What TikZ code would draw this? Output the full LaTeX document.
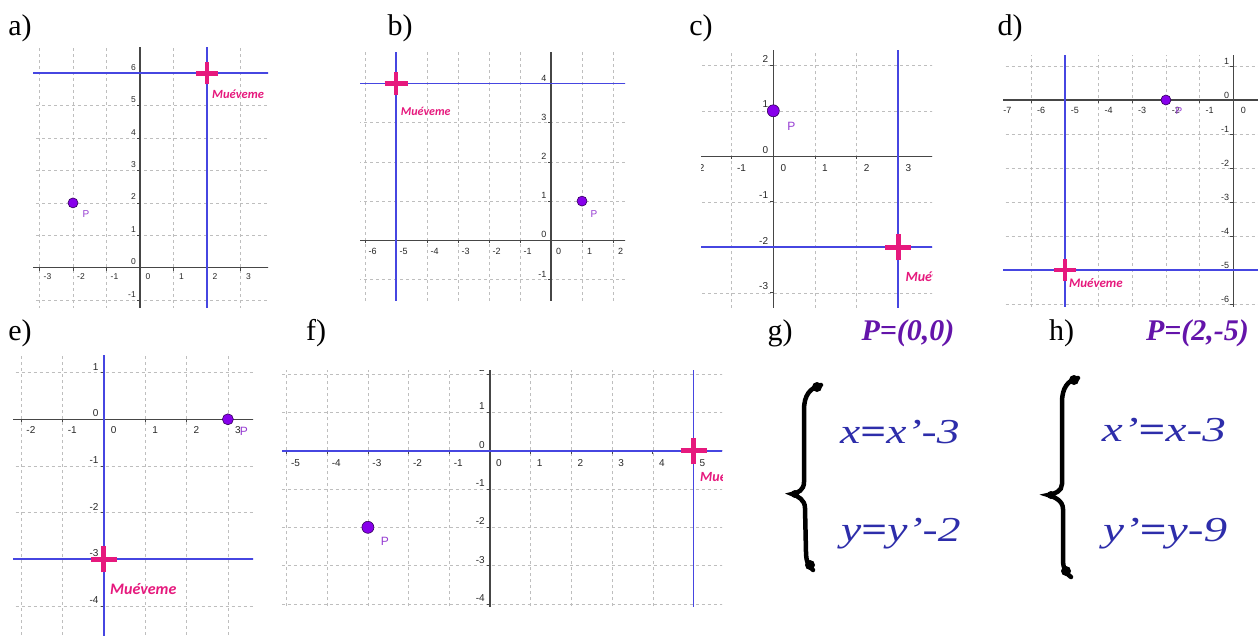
\documentclass[tikz,border=0pt]{standalone}
\usepackage{fontspec}
\usepackage{graphicx}
\setmainfont{Liberation Serif}
\setsansfont{Liberation Sans}
\newfontfamily\calib{Carlito}
\definecolor{gridc}{RGB}{190,190,190}
\definecolor{axisc}{RGB}{70,70,70}
\definecolor{labc}{RGB}{40,40,40}
\definecolor{bluec}{RGB}{70,70,225}
\definecolor{magc}{RGB}{230,25,125}
\definecolor{ptc}{RGB}{135,0,235}
\definecolor{ptd}{RGB}{50,0,90}
\definecolor{plc}{RGB}{150,60,210}
\definecolor{eqc}{RGB}{45,45,170}
\definecolor{pcol}{RGB}{100,20,170}
\def\tfs{8}\def\xlx{8}\def\xly{-9}\def\ylx{-4}\def\yly{6}
\tikzset{
  gridl/.style={draw=gridc, dash pattern=on 3pt off 3pt, line width=0.6pt},
  axisl/.style={draw=axisc, line width=1.2pt},
  tickm/.style={draw=axisc, line width=0.8pt},
  tickl/.style={font=\sffamily\fontsize{\tfs}{\tfs}\selectfont, text=labc, inner sep=0pt},
  xlab/.style={tickl, xshift=\xlx pt, yshift=\xly pt},
  ylab/.style={tickl, anchor=east, xshift=\ylx pt, yshift=\yly pt},
  chair/.style={draw=bluec, line width=1.9pt},
  mover/.style={draw=magc, line width=4.5pt},
  ptdot/.style={circle, fill=ptc, draw=ptd, line width=0.6pt, inner sep=0pt},
  plab/.style={text=plc, inner sep=0pt},
  mlab/.style={text=magc, anchor=west, inner sep=0pt},
  lbl/.style={font=\fontsize{30}{30}\selectfont, inner sep=0pt},
  ptitle/.style={font=\fontsize{30}{30}\selectfont\bfseries\itshape, text=pcol, inner sep=0pt},
  eqn/.style={font=\fontsize{35}{35}\selectfont, text=eqc, inner sep=0pt, anchor=base west},
  bracel/.style={draw=black, line width=4.5pt, line cap=round},
}
\newcommand\gaxes[5]{%
  \foreach \i in {#2,...,#3} \draw[gridl] (\i,#4-1) -- (\i,#5+1);
  \foreach \j in {#4,...,#5} \draw[gridl] (#2-1,\j) -- (#3+1,\j);
  \draw[axisl] (#2-1,0) -- (#3+1,0);
  \draw[axisl] (0,#4-1) -- (0,#5+1);
  \foreach \i in {#2,...,#3} {
    \draw[tickm] (\i,0) -- ++(0,-3pt);
    \node[xlab] (#1x\i) at (\i,0) {\i};
  }
  \foreach \j in {#4,...,#5} {
    \draw[tickm] (0,\j) -- ++(-3pt,0);
    \node[ylab] (#1y\j) at (0,\j) {\j};
  }
}
\newcommand\movecross[2]{% #1 coordinate, #2 half length
  \draw[mover] ([xshift=-#2pt]#1) -- ([xshift=#2pt]#1);
  \draw[mover] ([yshift=-#2pt]#1) -- ([yshift=#2pt]#1);
}
\begin{document}
\begin{tikzpicture}[x=1pt,y=-1pt]
\useasboundingbox (0,0) rectangle (1258,635);
\fill[white] (0,0) rectangle (1258,635);

% ---------- a ----------
\begin{scope}
\clip (33,47) rectangle (268,307);
\begin{scope}[shift={(140,267.7)}, x=33.5pt, y=32.4pt]
\def\tfs{8.5}\def\xlx{8}\def\xly{-9}\def\ylx{-4}\def\yly{6}
\gaxes{a}{-3}{3}{-1}{6}
\coordinate (a-M) at (2,6);
\draw[chair] (2,-3) -- (2,8);
\draw[chair] (-5,6) -- (5,6);
\node[ptdot, minimum size=10pt] (a-P) at (-2,2) {};
\node[plab, font=\sffamily\fontsize{10}{10}\selectfont, xshift=13pt, yshift=-11pt] (a-pl) at (a-P) {P};
\movecross{a-M}{11}
\node[mlab, font=\calib\bfseries\itshape\fontsize{12.5}{12.5}\selectfont, xshift=5pt, yshift=-21pt] (a-ml) at (a-M) {Muéveme};
\end{scope}
\end{scope}

% ---------- b ----------
\begin{scope}
\clip (360,52) rectangle (625,300);
\begin{scope}[shift={(551,240.3)}, x=31pt, y=39.2pt]
\def\tfs{9}\def\xlx{7.7}\def\xly{-11}\def\ylx{-4.5}\def\yly{5.5}
\gaxes{b}{-6}{2}{-1}{4}
\coordinate (b-M) at (-5,4);
\draw[chair] (-5,-3) -- (-5,6);
\draw[chair] (-8,4) -- (4,4);
\node[ptdot, minimum size=10pt] (b-P) at (1,1) {};
\node[plab, font=\sffamily\fontsize{10}{10}\selectfont, xshift=12pt, yshift=-13pt] (b-pl) at (b-P) {P};
\movecross{b-M}{11.5}
\node[mlab, font=\calib\bfseries\itshape\fontsize{12}{12}\selectfont, xshift=4.7pt, yshift=-27.5pt] (b-ml) at (b-M) {Muéveme};
\end{scope}
\end{scope}

% ---------- c ----------
\begin{scope}
\clip (701,50) rectangle (932,307);
\begin{scope}[shift={(773.3,156.3)}, x=41.7pt, y=45.5pt]
\def\tfs{10}\def\xlx{10}\def\xly{-12}\def\ylx{-5}\def\yly{6.5}
\gaxes{c}{-2}{3}{-3}{2}
\coordinate (c-M) at (3,-2);
\draw[chair] (3,-5) -- (3,4);
\draw[chair] (-4,-2) -- (5,-2);
\node[ptdot, minimum size=12pt] (c-P) at (0,1) {};
\node[plab, font=\sffamily\fontsize{12}{12}\selectfont, xshift=18pt, yshift=-16pt] (c-pl) at (c-P) {P};
\movecross{c-M}{13}
\node[mlab, font=\calib\bfseries\itshape\fontsize{14}{14}\selectfont, xshift=7pt, yshift=-29.4pt] (c-ml) at (c-M) {Muéveme};
\end{scope}
\end{scope}

% ---------- d ----------
\begin{scope}
\clip (1003,55) rectangle (1258,306);
\begin{scope}[shift={(1233.3,100)}, x=33.7pt, y=34pt]
\def\tfs{9}\def\xlx{10}\def\xly{-10}\def\ylx{-4}\def\yly{5}
\gaxes{d}{-7}{0}{-6}{1}
\coordinate (d-M) at (-5,-5);
\draw[chair] (-5,-8) -- (-5,3);
\draw[chair] (-9,-5) -- (2,-5);
\node[ptdot, minimum size=10pt] (d-P) at (-2,0) {};
\node[plab, font=\sffamily\fontsize{10}{10}\selectfont, xshift=13pt, yshift=-11pt] (d-pl) at (d-P) {P};
\movecross{d-M}{11}
\node[mlab, font=\calib\bfseries\itshape\fontsize{13}{13}\selectfont, xshift=4pt, yshift=-13.3pt] (d-ml) at (d-M) {Muéveme};
\end{scope}
\end{scope}

% ---------- e ----------
\begin{scope}
\clip (13,355) rectangle (253,635);
\begin{scope}[shift={(103.7,419.3)}, x=41.4pt, y=46.7pt]
\def\tfs{10}\def\xlx{10}\def\xly{-11}\def\ylx{-5}\def\yly{6}
\gaxes{e}{-2}{3}{-4}{1}
\coordinate (e-M) at (0,-3);
\draw[chair] (0,-6) -- (0,3);
\draw[chair] (-4,-3) -- (5,-3);
\node[ptdot, minimum size=11pt] (e-P) at (3,0) {};
\node[plab, font=\sffamily\fontsize{12}{12}\selectfont, xshift=16pt, yshift=-12pt] (e-pl) at (e-P) {P};
\movecross{e-M}{13}
\node[mlab, font=\calib\bfseries\itshape\fontsize{16}{16}\selectfont, xshift=6.3pt, yshift=-30pt] (e-ml) at (e-M) {Muéveme};
\end{scope}
\end{scope}

% ---------- f ----------
\begin{scope}
\clip (282,370) rectangle (722,606);
\begin{scope}[shift={(490,450.7)}, x=40.7pt, y=38.3pt]
\def\tfs{10}\def\xlx{9}\def\xly{-12.5}\def\ylx{-5}\def\yly{6}
\gaxes{f}{-5}{5}{-4}{2}
\coordinate (f-M) at (5,0);
\draw[chair] (5,-6) -- (5,4);
\draw[chair] (-7,0) -- (7,0);
\node[ptdot, minimum size=12pt] (f-P) at (-3,-2) {};
\node[plab, font=\sffamily\fontsize{12}{12}\selectfont, xshift=17pt, yshift=-14.4pt] (f-pl) at (f-P) {P};
\movecross{f-M}{13}
\node[mlab, font=\calib\bfseries\itshape\fontsize{14}{14}\selectfont, xshift=6.5pt, yshift=-26pt] (f-ml) at (f-M) {Muéveme};
\end{scope}
\end{scope}

% ---------- panel letters ----------
\node[lbl] (la) at (20,28) {a)};
\node[lbl] (lb) at (400,28) {b)};
\node[lbl] (lc) at (701,28) {c)};
\node[lbl] (ld) at (1010,28) {d)};
\node[lbl] (le) at (20,333) {e)};
\node[lbl] (lf) at (316,333) {f)};
\node[lbl] (lg) at (780,333) {g)};
\node[lbl] (lh) at (1061.7,333) {h)};

% ---------- g ----------
\node[ptitle] (g-t) at (908,333) {P=(0,0)};
\draw[bracel] (821,385) .. controls (810,388) and (804,395) .. (804,410) -- (804,482)
  .. controls (804,490) and (798,493) .. (792,494)
  .. controls (798,496) and (805,500) .. (805,508) -- (806,552)
  .. controls (806,562) and (809,567) .. (813,570);
\fill (817,387) circle (5pt);
\fill (810,565) circle (5pt);
\fill (795,494) circle (4pt);
\node[eqn] (g-e1) at (840,443) {\scalebox{1.3}[1]{\textit{x}\textbf{=}\textit{x’-3}}};
\node[eqn] (g-e2) at (841,541.7) {\scalebox{1.3}[1]{\textit{y}\textbf{=}\textit{y’-2}}};

% ---------- h ----------
\node[ptitle] (h-t) at (1197.5,333) {P=(2,-5)};
\draw[bracel] (1078,378) .. controls (1068,380) and (1062,388) .. (1062,402) -- (1062,484)
  .. controls (1062,491) and (1055,494) .. (1048,495)
  .. controls (1055,497) and (1063,501) .. (1063,509) -- (1063,560)
  .. controls (1063,568) and (1066,574) .. (1071,577);
\fill (1074,380) circle (5pt);
\fill (1066,571) circle (5pt);
\fill (1051,495) circle (4pt);
\node[eqn] (h-e1) at (1101.7,441.7) {\scalebox{1.35}[1]{\textit{x’}\textbf{=}\textit{x-3}}};
\node[eqn] (h-e2) at (1103,541.7) {\scalebox{1.35}[1]{\textit{y’}\textbf{=}\textit{y-9}}};
\end{tikzpicture}
\end{document}
